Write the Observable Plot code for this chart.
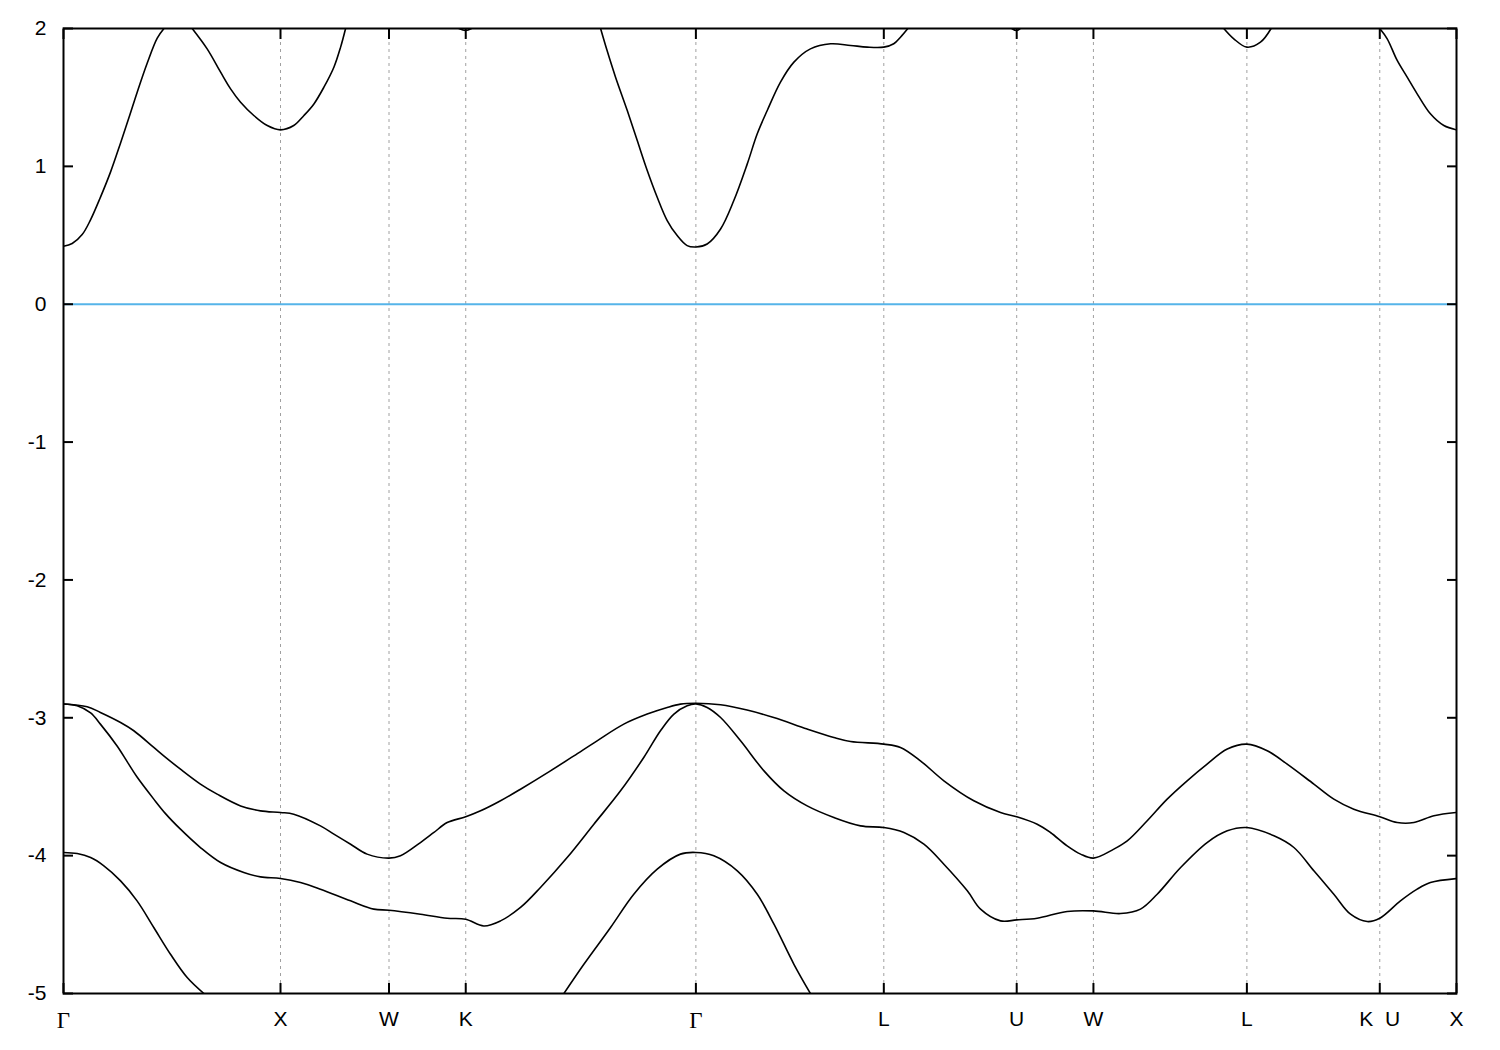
<!DOCTYPE html>
<html>
<head>
<meta charset="utf-8">
<script src="https://cdn.jsdelivr.net/npm/d3@7"></script>
<script src="https://cdn.jsdelivr.net/npm/@observablehq/plot@0.6"></script>
<style>
  html, body { margin: 0; padding: 0; background: #fff; }
  #chart svg { display: block; }
</style>
</head>
<body>
<div id="chart"></div>
<script>
// High-symmetry points along the k-path (cumulative path length, units of 2π/a)
const kTicks  = [0, 1, 1.5, 1.8536, 2.9142, 3.7802, 4.3926, 4.7462, 5.4533, 6.0657, 6.4193];
const kLabels = ["Γ", "X", "W", "K", "Γ", "L", "U", "W", "L", "K\u00a0\u00a0U", "X"];
const energyTicks = [-5, -4, -3, -2, -1, 0, 1, 2];
const fermiLevel = [0];

// Lowest conduction band [k, E] (null = leaves the window)
const conductionBand = [
  [0, 0.42], [0.040, 0.44], [0.086, 0.505], [0.124, 0.61], [0.170, 0.775], [0.217, 0.96],
  [0.263, 1.17], [0.301, 1.35], [0.340, 1.54], [0.386, 1.75], [0.432, 1.93], [0.463, 2.0], [0.50, null],
  [0.593, 2.0], [0.662, 1.852], [0.724, 1.683], [0.770, 1.562], [0.816, 1.465], [0.877, 1.369],
  [0.939, 1.296], [1.0, 1.265], [1.061, 1.296], [1.108, 1.369], [1.154, 1.453], [1.200, 1.574],
  [1.246, 1.719], [1.277, 1.865], [1.300, 2.0], [1.5, null],
  [1.822, 2.0], [1.8536, 1.985], [1.88, 2.0], [2.0, null],
  [2.475, 2.0], [2.505, 1.840], [2.544, 1.647], [2.598, 1.405], [2.644, 1.187], [2.690, 0.970],
  [2.736, 0.776], [2.782, 0.607], [2.828, 0.498], [2.874, 0.425], [2.9142, 0.415], [2.966, 0.437],
  [3.028, 0.546], [3.089, 0.752], [3.151, 1.018], [3.197, 1.236], [3.243, 1.405], [3.304, 1.611],
  [3.366, 1.756], [3.442, 1.852], [3.535, 1.889], [3.627, 1.877], [3.704, 1.865], [3.7802, 1.865],
  [3.826, 1.889], [3.857, 1.937], [3.891, 2.0], [4.0, null],
  [4.37, 2.0], [4.3926, 1.985], [4.41, 2.0], [4.6, null],
  [5.347, 2.0], [5.393, 1.925], [5.4533, 1.865], [5.516, 1.901], [5.565, 2.0], [5.8, null],
  [6.0657, 2.0], [6.100, 1.925], [6.146, 1.768], [6.192, 1.647], [6.238, 1.526], [6.299, 1.381],
  [6.361, 1.296], [6.4193, 1.265]
];

// Top valence band
const valenceBand1 = [
  [0, -2.90], [0.109, -2.920], [0.170, -2.961], [0.263, -3.034], [0.324, -3.094], [0.416, -3.215],
  [0.462, -3.276], [0.539, -3.373], [0.631, -3.481], [0.708, -3.554], [0.816, -3.639], [0.908, -3.675],
  [1.0, -3.687], [1.061, -3.699], [1.184, -3.784], [1.246, -3.844], [1.323, -3.917], [1.399, -3.989],
  [1.5, -4.018], [1.553, -4.001], [1.645, -3.905], [1.707, -3.832], [1.768, -3.760], [1.8536, -3.718],
  [1.922, -3.675], [2.014, -3.602], [2.106, -3.518], [2.244, -3.385], [2.352, -3.276], [2.459, -3.167],
  [2.582, -3.046], [2.690, -2.973], [2.782, -2.925], [2.843, -2.901], [2.9142, -2.895], [3.028, -2.906],
  [3.150, -2.944], [3.273, -2.998], [3.427, -3.082], [3.550, -3.143], [3.627, -3.172], [3.7802, -3.191],
  [3.857, -3.215], [3.949, -3.312], [4.057, -3.457], [4.195, -3.602], [4.318, -3.687], [4.3926, -3.718],
  [4.487, -3.772], [4.548, -3.832], [4.625, -3.929], [4.687, -3.989], [4.7462, -4.018], [4.840, -3.953],
  [4.902, -3.893], [4.994, -3.747], [5.086, -3.590], [5.178, -3.457], [5.270, -3.336], [5.363, -3.227],
  [5.4533, -3.191], [5.547, -3.239], [5.639, -3.336], [5.762, -3.481], [5.854, -3.590], [5.946, -3.663],
  [6.0657, -3.718], [6.146, -3.760], [6.223, -3.760], [6.315, -3.711], [6.4193, -3.687]
];

// Second valence band
const valenceBand2 = [
  [0, -2.90], [0.063, -2.913], [0.125, -2.965], [0.170, -3.046], [0.247, -3.205], [0.294, -3.320],
  [0.339, -3.430], [0.416, -3.590], [0.470, -3.695], [0.539, -3.808], [0.631, -3.941], [0.724, -4.050], [0.831, -4.122],
  [0.908, -4.154], [1.0, -4.166], [1.092, -4.195], [1.184, -4.243], [1.323, -4.328], [1.430, -4.388],
  [1.5, -4.396], [1.645, -4.425], [1.768, -4.454], [1.8536, -4.461], [1.937, -4.510], [2.014, -4.473],
  [2.106, -4.376], [2.198, -4.231], [2.321, -4.014], [2.444, -3.772], [2.567, -3.530], [2.674, -3.288],
  [2.751, -3.094], [2.813, -2.973], [2.874, -2.913], [2.9142, -2.90], [2.966, -2.925], [3.028, -2.998],
  [3.120, -3.167], [3.228, -3.385], [3.320, -3.530], [3.427, -3.639], [3.550, -3.723], [3.673, -3.784],
  [3.7802, -3.796], [3.873, -3.832], [3.965, -3.917], [4.057, -4.062], [4.165, -4.255], [4.226, -4.388],
  [4.318, -4.473], [4.3926, -4.466], [4.487, -4.454], [4.625, -4.405], [4.7462, -4.401], [4.871, -4.420],
  [4.963, -4.388], [5.040, -4.280], [5.148, -4.086], [5.270, -3.905], [5.363, -3.820], [5.4533, -3.796],
  [5.578, -3.856], [5.670, -3.941], [5.762, -4.110], [5.854, -4.280], [5.931, -4.425], [6.008, -4.478],
  [6.0657, -4.454], [6.161, -4.328], [6.238, -4.243], [6.299, -4.195], [6.4193, -4.166]
];

// Third valence band
const valenceBand3 = [
  [0, -3.977], [0.063, -3.985], [0.125, -4.014], [0.186, -4.074], [0.263, -4.183], [0.339, -4.328],
  [0.416, -4.521], [0.493, -4.715], [0.570, -4.884], [0.647, -5.0], [1.0, null],
  [2.306, -5.0], [2.398, -4.788], [2.521, -4.521], [2.628, -4.280], [2.736, -4.098], [2.843, -3.989],
  [2.9142, -3.977], [2.997, -4.001], [3.105, -4.110], [3.197, -4.280], [3.274, -4.497], [3.366, -4.788],
  [3.442, -5.0]
];

const bands = [
  {name: "cb", pts: conductionBand},
  {name: "v1", pts: valenceBand1},
  {name: "v2", pts: valenceBand2},
  {name: "v3", pts: valenceBand3}
];
const rows = bands.flatMap(b => b.pts.map(([k, e]) => ({band: b.name, k, e})));

const gammaTicks = kTicks.filter((d, i) => kLabels[i] === "Γ");
const otherTicks = kTicks.filter((d, i) => kLabels[i] !== "Γ");
const labelOf = d => kLabels[kTicks.indexOf(d)];

const chart = Plot.plot({
  width: 1500,
  height: 1050,
  marginLeft: 63,
  marginRight: 44,
  marginTop: 28,
  marginBottom: 57,
  x: {domain: [kTicks[0], kTicks[kTicks.length - 1]]},
  y: {domain: [-5, 2]},
  style: {fontFamily: "'Liberation Sans', Arial, sans-serif", fontSize: "21px", background: "#fff", color: "#000"},
  marks: [
    Plot.ruleX(kTicks, {stroke: "#a0a0a0", strokeWidth: 1, strokeDasharray: "3,4"}),
    Plot.ruleY(fermiLevel, {stroke: "#56b4e9", strokeWidth: 2}),
    Plot.line(rows, {x: "k", y: "e", z: "band", stroke: "#000", strokeWidth: 1.6, curve: "catmull-rom", clip: true}),
    // inward tick marks on all four sides
    Plot.axisY(energyTicks, {anchor: "left", tickSize: 10, dx: 10, fill: "none", strokeWidth: 2, label: null}),
    Plot.axisY(energyTicks, {anchor: "right", tickSize: 10, dx: -10, fill: "none", strokeWidth: 2, label: null}),
    Plot.axisX(kTicks, {anchor: "bottom", tickSize: 10, dy: -10, fill: "none", strokeWidth: 2, label: null}),
    Plot.axisX(kTicks, {anchor: "top", tickSize: 10, dy: 10, fill: "none", strokeWidth: 2, label: null}),
    // tick labels
    Plot.axisY(energyTicks, {anchor: "left", tickSize: 0, tickPadding: 17, tickFormat: d => String(d), fontSize: 21, label: null}),
    Plot.axisX(otherTicks, {anchor: "bottom", tickSize: 0, tickPadding: 18, tickFormat: labelOf, fontSize: 21, label: null}),
    Plot.axisX(gammaTicks, {anchor: "bottom", tickSize: 0, tickPadding: 18, tickFormat: labelOf, fontSize: 23, fontFamily: "'Liberation Serif', 'DejaVu Serif', serif", label: null}),
    Plot.frame({stroke: "#000", strokeWidth: 2})
  ]
});
document.getElementById("chart").appendChild(chart);
</script>
</body>
</html>
